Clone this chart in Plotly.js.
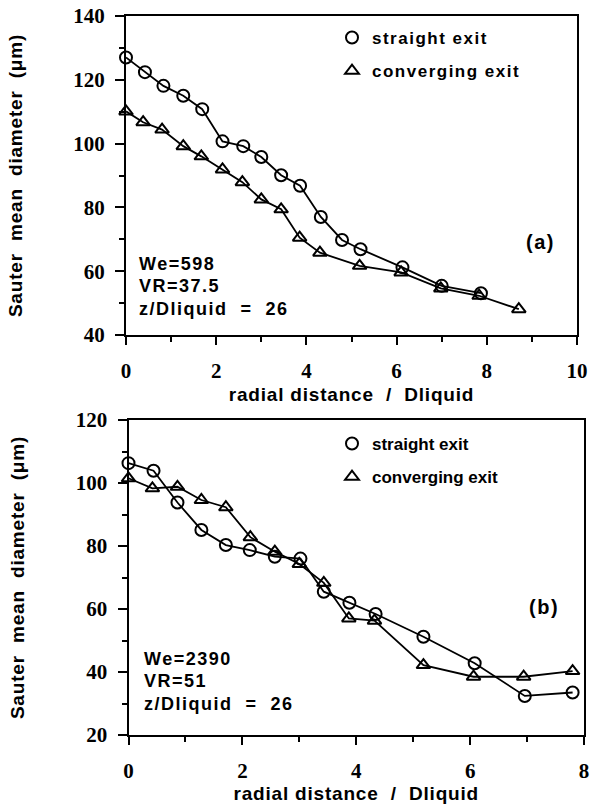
<!DOCTYPE html>
<html>
<head>
<meta charset="utf-8">
<script src="https://cdn.plot.ly/plotly-3.0.1.min.js"></script>
<style>
html,body{margin:0;padding:0;background:#fff;}
#chart{width:598px;height:804px;}
.annotation-text, .legendtext { letter-spacing: 1.5px; }
.xtitle, .x2title, .ytitle, .y2title { letter-spacing: 0.8px; }
</style>
</head>
<body>
<div id="chart"></div>
<script>
// ---- Data ----
// (a) We=598
const topStraightX = [0, 0.42, 0.83, 1.27, 1.69, 2.14, 2.6, 3.0, 3.44, 3.86, 4.32, 4.79, 5.2, 6.13, 7.0, 7.87];
const topStraightY = [127.0, 122.4, 118.1, 115.0, 110.8, 100.7, 99.2, 95.8, 90.1, 86.8, 77.0, 69.8, 66.9, 61.2, 55.4, 53.1];
const topConvX = [0, 0.38, 0.8, 1.27, 1.67, 2.14, 2.58, 3.0, 3.44, 3.85, 4.3, 5.18, 6.1, 6.98, 7.83, 8.71];
const topConvY = [110.1, 106.7, 104.4, 99.2, 96.0, 91.9, 87.9, 82.5, 79.4, 70.5, 65.8, 61.7, 59.6, 54.6, 52.3, 48.1];
// (b) We=2390
const botStraightX = [0, 0.44, 0.86, 1.28, 1.71, 2.13, 2.57, 3.02, 3.43, 3.88, 4.34, 5.18, 6.08, 6.96, 7.8];
const botStraightY = [106.3, 103.9, 93.8, 85.1, 80.3, 78.7, 76.6, 76.0, 65.5, 62.0, 58.4, 51.2, 42.8, 32.4, 33.5];
const botConvX = [0, 0.42, 0.86, 1.28, 1.71, 2.14, 2.57, 3.0, 3.43, 3.87, 4.32, 5.18, 6.06, 6.94, 7.8];
const botConvY = [101.5, 98.3, 98.8, 94.6, 92.3, 82.8, 78.2, 74.3, 68.3, 57.0, 56.3, 42.2, 38.5, 38.5, 40.3];

const seriesNames = ["straight exit", "converging exit"];
const topNotes = ["We=598", "VR=37.5", "z/Dliquid  =  26"];
const botNotes = ["We=2390", "VR=51", "z/Dliquid  =  26"];
const panelLabels = ["(a)", "(b)"];
const xTitle = "radial distance  /  Dliquid";
const yTitle = "Sauter  mean  diameter  (\u03bcm)";

// ---- Styling ----
const SANS = "Liberation Sans, Arial, sans-serif";
const SERIF = "Liberation Serif, Times New Roman, serif";
const W = 598, H = 804;
const px = v => v / W;
const py = v => 1 - v / H;

const lineStyle = {color: "#000", width: 1.8};
const circleMarker = {symbol: "circle-open", size: 12, color: "#000", line: {width: 2, color: "#000"}};
const triMarker = {symbol: "triangle-up-open", size: 12, color: "#000", line: {width: 2, color: "#000"}};

function dataTrace(x, y, marker, xa, ya) {
  return {x: x, y: y, xaxis: xa, yaxis: ya, mode: "lines+markers", line: lineStyle,
          marker: marker, showlegend: false, hoverinfo: "skip", cliponaxis: false};
}
function legendTrace(name, marker, legend, group) {
  return {x: [null], y: [null], mode: "markers", name: name, marker: marker,
          legend: legend, legendgroup: group, showlegend: true, xaxis: "x", yaxis: "y"};
}

const traces = [
  dataTrace(topStraightX, topStraightY, circleMarker, "x", "y"),
  dataTrace(topConvX, topConvY, triMarker, "x", "y"),
  dataTrace(botStraightX, botStraightY, circleMarker, "x2", "y2"),
  dataTrace(botConvX, botConvY, triMarker, "x2", "y2"),
  legendTrace(seriesNames[0], circleMarker, "legend", "a1"),
  legendTrace(seriesNames[1], triMarker, "legend", "a2"),
  legendTrace(seriesNames[0], circleMarker, "legend2", "b1"),
  legendTrace(seriesNames[1], triMarker, "legend2", "b2")
];

function xAxis(domain, range, anchor, standoff) {
  return {domain: domain, range: range, anchor: anchor, dtick: 2, tick0: 0,
    showline: true, mirror: true, linecolor: "#000", linewidth: 2,
    ticks: "outside", ticklen: 8, tickwidth: 2, tickcolor: "#000",
    minor: {dtick: 1, ticks: "outside", ticklen: 5, tickwidth: 2, tickcolor: "#000"},
    showgrid: false, zeroline: false, ticklabelstandoff: 8,
    tickfont: {family: SERIF, size: 21, color: "#000", weight: "bold"},
    title: {text: xTitle, standoff: standoff, font: {family: SANS, size: 19, color: "#000", weight: "bold"}},
    automargin: false, fixedrange: true};
}
function yAxis(domain, range, anchor) {
  return {domain: domain, range: range, anchor: anchor, dtick: 20,
    showline: true, mirror: true, linecolor: "#000", linewidth: 2,
    ticks: "outside", ticklen: 9, tickwidth: 2, tickcolor: "#000",
    minor: {dtick: 10, ticks: "outside", ticklen: 5, tickwidth: 2, tickcolor: "#000"},
    showgrid: false, zeroline: false, ticklabelstandoff: 6,
    tickfont: {family: SERIF, size: 21, color: "#000", weight: "bold"},
    title: {text: yTitle, standoff: 46, font: {family: SANS, size: 19, color: "#000", weight: "bold"}},
    automargin: false, fixedrange: true};
}

function notes(lines, xa, ya, x0, ys) {
  return lines.map((t, i) => ({text: t, xref: xa, yref: ya, x: x0, y: ys[i],
    xanchor: "left", yanchor: "middle", showarrow: false,
    font: {family: SANS, size: 18, color: "#000", weight: "bold"}}));
}

const annotations = [].concat(
  notes(topNotes, "x", "y", 0.25, [62.2, 55.3, 48.1]),
  notes(botNotes, "x2", "y2", 0.23, [44.1, 37.1, 29.8]),
  [{text: panelLabels[0], xref: "x", yref: "y", x: 9.2, y: 69, showarrow: false,
    xanchor: "center", yanchor: "middle", font: {family: SANS, size: 20, color: "#000", weight: "bold"}},
   {text: panelLabels[1], xref: "x2", yref: "y2", x: 7.3, y: 60.6, showarrow: false,
    xanchor: "center", yanchor: "middle", font: {family: SANS, size: 20, color: "#000", weight: "bold"}}]
);

const legendBase = {xanchor: "left", yanchor: "top", bgcolor: "rgba(0,0,0,0)", borderwidth: 0,
  font: {family: SANS, size: 17, color: "#000", weight: "bold"}, tracegroupgap: 8,
  itemwidth: 30, traceorder: "grouped"};

const layout = {
  width: W, height: H,
  margin: {l: 0, r: 0, t: 0, b: 0},
  paper_bgcolor: "#fff", plot_bgcolor: "#fff",
  showlegend: true,
  xaxis: xAxis([px(126), px(577)], [0, 10], "y", 5),
  yaxis: yAxis([py(335), py(16)], [40, 140], "x"),
  xaxis2: xAxis([px(128.5), px(584)], [0, 8], "y2", 9),
  yaxis2: yAxis([py(735), py(420)], [20, 120], "x2"),
  legend: Object.assign({x: px(332), y: py(20)}, legendBase),
  legend2: Object.assign({x: px(332), y: py(426)}, legendBase),
  annotations: annotations
};

Plotly.newPlot("chart", traces, layout, {displayModeBar: false, staticPlot: true});
</script>
</body>
</html>
